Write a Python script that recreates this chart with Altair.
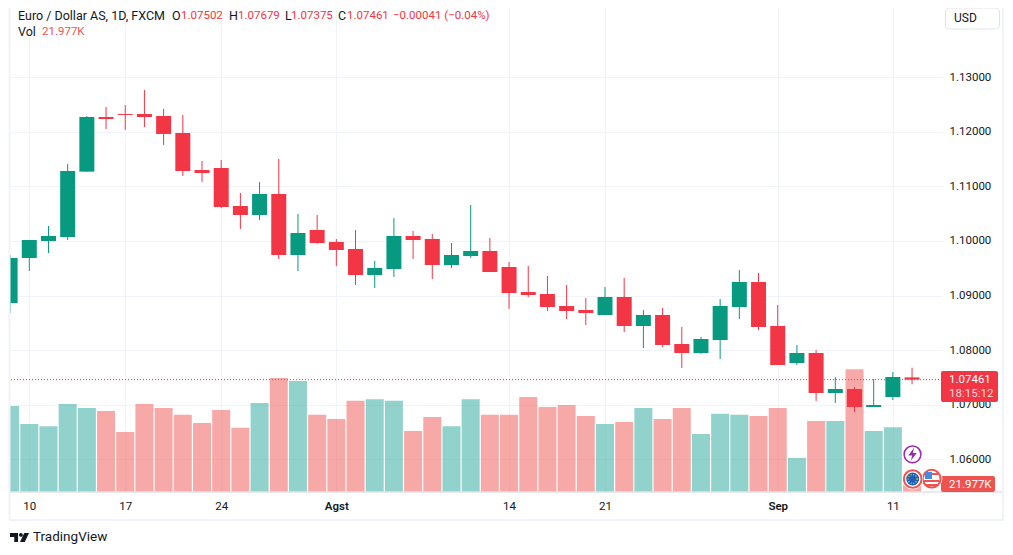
import altair as alt
import pandas as pd

opens = [1.08864,1.09688,1.10000,1.10073,1.11270,1.12271,1.12326,1.12326,1.12289,1.11978,1.11300,1.11337,
         1.10641,1.10476,1.10861,1.09743,1.10201,1.09982,1.09854,1.09377,1.09487,1.10091,1.10037,1.09560,
         1.09725,1.09817,1.09524,1.09066,1.09029,1.08809,1.08736,1.08645,1.08974,1.08443,1.08645,1.08113,
         1.07949,1.08187,1.08791,1.09249,1.08443,1.07766,1.07949,1.07216,1.07289,1.06959,1.07143,1.07502]
closes = [1.09688,1.10018,1.10091,1.11282,1.12271,1.12234,1.12308,1.12271,1.11960,1.11282,1.11245,1.10623,
          1.10476,1.10861,1.09743,1.10146,1.09963,1.09835,1.09377,1.09505,1.10091,1.10018,1.09560,1.09743,
          1.09817,1.09432,1.09047,1.09011,1.08791,1.08718,1.08681,1.08974,1.08443,1.08645,1.08095,1.07949,
          1.08205,1.08809,1.09249,1.08425,1.07729,1.07949,1.07216,1.07289,1.06959,1.06996,1.07509,1.07461]
highs = [1.09743,1.10018,1.10274,1.11410,1.12289,1.12454,1.12491,1.12766,1.12418,1.12308,1.11465,1.11484,
         1.10879,1.11081,1.11502,1.10494,1.10476,1.10037,1.10201,1.09633,1.10421,1.10183,1.10128,1.09963,
         1.10659,1.10055,1.09615,1.09542,1.09359,1.09194,1.08956,1.09157,1.09322,1.08736,1.08773,1.08425,
         1.08241,1.08937,1.09469,1.09414,1.08828,1.08095,1.08004,1.07509,1.07326,1.07473,1.07601,1.07679]
lows = [1.08681,1.09450,1.09780,1.10018,1.11270,1.12051,1.12033,1.12088,1.11758,1.11190,1.11081,1.10604,
        1.10220,1.10384,1.09670,1.09450,1.09945,1.09542,1.09194,1.09139,1.09340,1.09670,1.09304,1.09505,
        1.09688,1.09432,1.08755,1.08974,1.08718,1.08571,1.08461,1.08645,1.08333,1.08040,1.08059,1.07674,
        1.07930,1.07839,1.08571,1.08370,1.07729,1.07729,1.07070,1.07033,1.06868,1.06959,1.07088,1.07375]
volumes = [252,199,193,258,246,237,176,258,246,226,202,240,188,261,334,325,226,214,267,272,267,179,220,193,
           272,226,226,278,249,255,223,199,205,246,214,246,170,229,226,223,246,100,208,208,360,179,190,21.977]
tick_positions = [1,6,11,17,26,31,40,46]
tick_labels = ["10","17","24","Agst","14","21","Sep","11"]
price_ticks = [1.06,1.07,1.08,1.09,1.10,1.11,1.12,1.13]
last_close = 1.07461

GREEN, RED = "#089981", "#f23645"
VGREEN, VRED = "#26a69a", "#ef5350"
GRID = "#f0f3fa"
INK = "#131722"
FONT = "Roboto"

df = pd.DataFrame({"i": range(len(opens)), "o": opens, "c": closes, "h": highs, "l": lows, "v": volumes})
df["dir"] = ["up" if c >= o else "down" for o, c in zip(opens, closes)]

W, H = 932, 484
xs = alt.Scale(domain=[-0.005, 48.56], nice=False, zero=False, padding=0)
ps = alt.Scale(domain=[1.05403, 1.14267], nice=False, zero=False, padding=0)
vs = alt.Scale(domain=[0, 1418.12], nice=False, zero=False, padding=0)
label_map = "{" + ",".join(f"'{p}':'{t}'" for p, t in zip(tick_positions, tick_labels)) + "}"

x_axis = alt.Axis(values=tick_positions, labelExpr=f"{label_map}[datum.value]", title=None, grid=True,
                  gridColor=GRID, gridWidth=1, ticks=False, domain=False, labelColor=INK, labelFont=FONT,
                  labelFontSize=11.5, labelPadding=8, labelBaseline="top", labelFlush=False,
                  labelFontWeight=alt.condition("datum.value == 17 || datum.value == 40", alt.value(600), alt.value(400)))
y_axis = alt.Axis(values=price_ticks, format=".5f", orient="right", title=None, grid=True, gridColor=GRID,
                  gridWidth=1, ticks=False, domain=False, labelColor=INK, labelFont=FONT, labelFontSize=11.5,
                  labelPadding=7, labelFlush=False)

color = alt.Color("dir:N", scale=alt.Scale(domain=["up", "down"], range=[GREEN, RED]), legend=None)
base = alt.Chart(df)
X = alt.X("i:Q", scale=xs, axis=x_axis)

grid_layer = base.mark_rule(opacity=0).encode(x=X, y=alt.Y("o:Q", scale=ps, axis=y_axis))
vol = alt.Chart(df).mark_bar(size=18, clip=True, opacity=0.5).encode(
    x=X, y=alt.Y("v:Q", scale=vs, axis=None),
    color=alt.Color("dir:N", scale=alt.Scale(domain=["up", "down"], range=[VGREEN, VRED]), legend=None))
last_line = alt.Chart(pd.DataFrame({"p": [last_close]})).mark_rule(color=RED, strokeWidth=1, strokeDash=[1, 2]).encode(
    y=alt.Y("p:Q", scale=ps, axis=None))
candles = alt.layer(
    base.mark_rule(strokeWidth=1, clip=True).encode(
        x=X, y=alt.Y("l:Q", scale=ps, axis=None), y2="h:Q", color=color),
    base.mark_bar(size=15, clip=True).encode(
        x=X, y=alt.Y("o:Q", scale=ps, axis=None), y2="c:Q", color=color),
)

one = pd.DataFrame({"k": [0]})
PX, PY = 10, 8


def txt(s, x, y, color=INK, size=12.5, weight=400, align="left"):
    return alt.Chart(one).mark_text(text=s, color=color, fontSize=size, font=FONT, fontWeight=weight,
                                    align=align, baseline="middle").encode(
        x=alt.value(x - PX), y=alt.value(y - PY))


def box(x0, y0, x1, y1, fill, stroke=None, radius=0):
    kw = {"cornerRadius": radius} if radius else {}
    if stroke:
        kw["stroke"] = stroke
    return alt.Chart(one).mark_rect(fill=fill, **kw).encode(
        x=alt.value(x0 - PX), x2=alt.value(x1 - PX), y=alt.value(y0 - PY), y2=alt.value(y1 - PY))


def line(x0, y0, x1, y1, color, w=1):
    return alt.Chart(one).mark_rule(color=color, strokeWidth=w).encode(
        x=alt.value(x0 - PX), x2=alt.value(x1 - PX), y=alt.value(y0 - PY), y2=alt.value(y1 - PY))


def dot(x, y, d, fill="transparent", stroke="transparent", sw=0, shape="circle", dash=None):
    kw = {"strokeDash": dash} if dash else {}
    return alt.Chart(one).mark_point(filled=False, fill=fill, stroke=stroke, strokeWidth=sw, shape=shape,
                                     size=d * d if shape != "circle" else 3.1416 * d * d / 4, opacity=1, **kw).encode(
        x=alt.value(x - PX), y=alt.value(y - PY))


LOGO = ("M-1,-0.47 L-0.15,-0.47 L-0.15,0.47 L-0.55,0.47 L-0.55,-0.05 L-1,-0.05 Z "
        "M0.15,-0.47 A0.2,0.2 0 1 0 0.15,-0.07 A0.2,0.2 0 1 0 0.15,-0.47 Z "
        "M0.5,-0.47 L1,-0.47 L0.55,0.47 L0.05,0.47 Z")
BOLT = "M0.25,-1 L-0.65,0.2 L-0.05,0.2 L-0.25,1 L0.65,-0.2 L0.05,-0.2 Z"
NUM = 11.5

decor = [
    # frame of the widget
    line(9.5, 8, 9.5, 520, GRID, 2),
    line(9, 520, 1003, 520, GRID, 2),
    line(1003, 8, 1003, 521, GRID, 2),
    line(10, 492, 1002, 492, "#e0e3eb", 1.5),
    # legend
    txt("Euro / Dollar AS, 1D, FXCM", 18, 16),
    txt("O", 172, 16), txt("1.07502", 181, 16, RED, NUM),
    txt("H", 229, 16), txt("1.07679", 238, 16, RED, NUM),
    txt("L", 285, 16), txt("1.07375", 291, 16, RED, NUM),
    txt("C", 338, 16), txt("1.07461", 347, 16, RED, NUM),
    txt("\u22120.00041 (\u22120.04%)", 393, 16, RED, NUM),
    txt("Vol", 18, 32), txt("21.977K", 42, 32, VRED, NUM),
    # currency button
    box(945.5, 8, 999.5, 29, "#ffffff", "#e0e3eb", 4),
    txt("USD", 954, 18, INK, 12),
    # last price and volume tags
    box(941, 371, 998, 402, RED, None, 2),
    txt("1.07461", 949, 380, "#ffffff", NUM),
    txt("18:15:12", 949, 394, "#fcd7da", NUM),
    box(941, 476, 995, 492, VRED, None, 2),
    txt("21.977K", 949, 485, "#ffffff", NUM),
    # event icons
    dot(912.5, 454.3, 22, fill="#ffffff"),
    dot(912.5, 454.3, 19, fill="#ffffff", stroke="#9c27b0", sw=1.5),
    dot(912.5, 454.3, 13, fill="#9c27b0", shape=BOLT),
    dot(931.7, 478.7, 23, fill="#ffffff", stroke="#ffffff", sw=1),
    dot(931.7, 478.7, 20, fill="#ffffff", stroke=VRED, sw=2),
    box(924, 473, 938, 475, VRED), box(924, 480, 939, 482, VRED), box(925, 484, 938, 486, VRED),
    box(925, 472, 932, 479, "#3f8fe6"),
    dot(912.7, 479, 23, fill="#ffffff", stroke="#ffffff", sw=1),
    dot(912.7, 479, 20, fill="#ffffff", stroke=VRED, sw=2),
    dot(912.7, 479, 14.5, fill="#1a5fb8"),
    dot(912.7, 479, 10, stroke="#f5d33c", sw=1.3, dash=[1, 1.6]),
    # TradingView credit
    dot(19.5, 537.5, 19, fill=INK, shape=LOGO),
    txt("TradingView", 33, 537, INK, 13.5),
]

chart = alt.layer(grid_layer, vol, last_line, candles, *decor).resolve_scale(
    y="independent", color="independent").properties(
    width=W, height=H, background="#ffffff",
    padding={"left": 2, "top": 0, "right": 63, "bottom": 54},
    autosize=alt.AutoSizeParams(type="none"),
).configure_view(stroke=None)

chart.save("out.html", embed_options={"renderer": "svg", "actions": False})
